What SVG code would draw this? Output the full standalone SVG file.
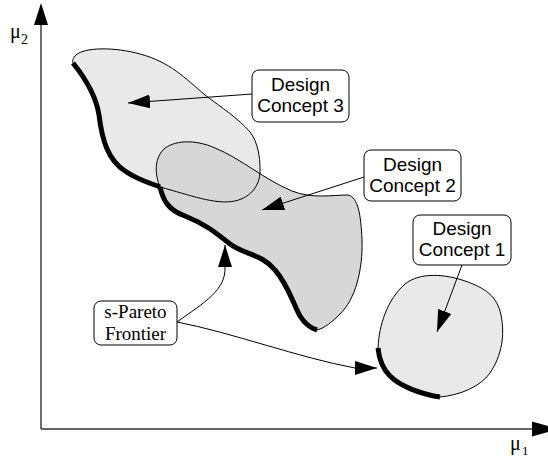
<svg xmlns="http://www.w3.org/2000/svg" xmlns:xlink="http://www.w3.org/1999/xlink" width="548" height="459" viewBox="0 0 548 459">
<style>
.axis{stroke:#333;stroke-width:1.4;fill:none}
.ahead{fill:#000}
.light{fill:#e9e9e9;stroke:none}
.dark{fill:#d7d7d7;stroke:none}
.outline{fill:none;stroke:#000;stroke-width:1}
.front{fill:none;stroke:#000;stroke-width:5;stroke-linecap:butt;stroke-linejoin:round}
.conn{fill:none;stroke:#000;stroke-width:1;marker-end:url(#arr)}
.box{fill:#fff;stroke:#000;stroke-width:1}
.sans{font-family:"Liberation Sans",Arial,sans-serif;font-size:19px;fill:#000;text-anchor:middle}
.serif{font-family:"Liberation Serif","Times New Roman",serif;font-size:19px;fill:#000;text-anchor:middle}
.mu{font-family:"Liberation Serif","Times New Roman",serif;fill:#000}
</style>
<defs>
<marker id="arr" viewBox="0 0 22 14" refX="22" refY="7" markerWidth="22" markerHeight="14" markerUnits="userSpaceOnUse" orient="auto">
<path d="M0,0 L22,7 L0,14 Z" fill="#000"/>
</marker>
<path id="c3" d="M73,63 C85,78 96,95 99,115 C102,140 108,160 125,171 C138,180 150,183 160,187 C190,195 215,205 235,201 C252,197 261,184 260,168 C260,158 258,142 250,132 C238,118 222,108 205,95 C185,78 170,62 140,54 C115,47 85,47 76,55 C73,58 72,61 73,63 Z"/>
<path id="c2" d="M160,187 C163,200 168,210 185,216 C205,224 215,232 230,244 C245,255 262,254 275,270 C288,285 293,303 300,316 C305,324 310,328 317,330 C325,328 332,322 340,314 C355,300 363,270 362,240 C361,215 358,197 348,195 C332,195 312,199 292,191 C265,180 240,158 215,148 C195,139 173,140 163,150 C154,160 155,175 160,187 Z"/>
<path id="c1" d="M378,348 C379,325 387,300 405,284 C420,272 445,274 465,281 C485,288 497,296 501,315 C505,335 502,355 490,373 C480,387 460,395 440,397 C420,394 400,386 390,376 C382,368 379,358 378,348 Z"/>
</defs>

<g id="axes">
<line class="axis" x1="41" y1="429" x2="41" y2="20"/>
<polygon class="ahead" points="41,3 34,25 48,25"/>
<line class="axis" x1="41" y1="429" x2="536" y2="429"/>
<polygon class="ahead" points="558,429 532,421.5 532,436.5"/>
<text class="mu" x="10" y="38" font-size="20">μ</text>
<text class="mu" x="21" y="44" font-size="14">2</text>
<text class="mu" x="510" y="450" font-size="20">μ</text>
<text class="mu" x="522" y="455" font-size="13">1</text>
</g>

<g id="concept3-region">
<use xlink:href="#c3" class="light"/>
</g>
<g id="concept2-region">
<use xlink:href="#c2" class="dark"/>
</g>
<g id="concept1-region">
<use xlink:href="#c1" class="light"/>
<use xlink:href="#c1" class="outline"/>
<path class="front" d="M440,397 C420,394 400,386 390,376 C382,368 379,358 378,348"/>
</g>
<g id="outlines">
<use xlink:href="#c3" class="outline"/>
<use xlink:href="#c2" class="outline"/>
<path class="front" d="M73,63 C85,78 96,95 99,115 C102,140 108,160 125,171 C138,180 150,183 160,187"/>
<path class="front" d="M160,187 C163,200 168,210 185,216 C205,224 215,232 230,244 C245,255 262,254 275,270 C288,285 293,303 300,316 C305,324 310,328 317,330"/>
</g>

<g id="connectors">
<path class="conn" d="M252,94 L128,103"/>
<path class="conn" d="M364,177 L262,210"/>
<path class="conn" d="M462,265 L437,332"/>
<path class="conn" d="M177,322 C205,302 226,290 225,267 L225,245"/>
<path class="conn" d="M177,322 C230,332 300,358 355,368 L377,368"/>
</g>

<g id="label-concept3">
<rect class="box" x="252" y="70" width="97" height="52" rx="7"/>
<text class="sans" x="300.5" y="91">Design</text>
<text class="sans" x="300.5" y="112">Concept 3</text>
</g>
<g id="label-concept2">
<rect class="box" x="364" y="150" width="97" height="51" rx="7"/>
<text class="sans" x="412.5" y="171">Design</text>
<text class="sans" x="412.5" y="192">Concept 2</text>
</g>
<g id="label-concept1">
<rect class="box" x="413" y="215" width="98" height="50" rx="7"/>
<text class="sans" x="462" y="235">Design</text>
<text class="sans" x="462" y="256">Concept 1</text>
</g>
<g id="label-pareto">
<rect class="box" x="94" y="301" width="83" height="44" rx="7"/>
<text class="serif" x="135.5" y="318">s-Pareto</text>
<text class="serif" x="135.5" y="340">Frontier</text>
</g>
</svg>
